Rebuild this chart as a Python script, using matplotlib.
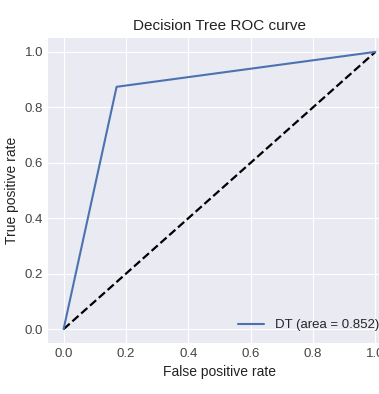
#!/usr/bin/env python3
"""ROC curve of the decision tree classifier."""
import matplotlib
matplotlib.use("Agg")
import matplotlib.pyplot as plt
import numpy as np

FPR = [0.0, 0.17, 1.0]
TPR = [0.0, 0.874, 1.0]
CHANCE = [0.0, 1.0]
LABEL = "DT"


def main():
    plt.style.use("seaborn-v0_8-darkgrid")
    plt.rcParams["font.family"] = ["Liberation Sans", "DejaVu Sans"]
    auc = np.trapezoid(TPR, FPR)

    fig = plt.figure(figsize=(3.79, 3.94), dpi=100)
    # axes run a little past the right edge of the canvas
    ax = fig.add_axes([48 / 379, 51 / 394, 343 / 379, 305 / 394])
    ax.plot(CHANCE, CHANCE, "k--", linewidth=1.6)
    ax.plot(FPR, TPR, color="#4C72B0", linewidth=1.5, label=f"{LABEL} (area = {auc:.3f})")
    ax.set_xlim(-0.05, 1.05)
    ax.set_ylim(-0.05, 1.05)
    ax.set_xticks(np.arange(0, 1.01, 0.2))
    ax.set_yticks(np.arange(0, 1.01, 0.2))
    ax.tick_params(labelsize=9.5, colors="#444444")
    ax.set_xlabel("False positive rate", fontsize=10, color="#222222")
    ax.set_ylabel("True positive rate", fontsize=10, color="#222222")
    ax.set_title("Decision Tree ROC curve", fontsize=11, color="#222222")
    ax.legend(loc="lower right", fontsize=9.5, frameon=False)
    fig.savefig("out.png", dpi=100)
    plt.close(fig)


if __name__ == "__main__":
    main()
